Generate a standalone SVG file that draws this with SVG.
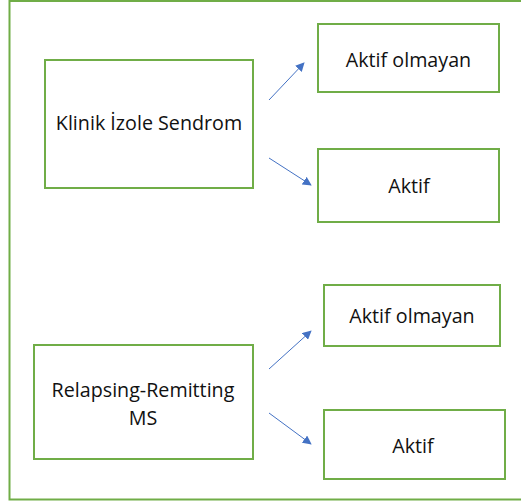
<svg xmlns="http://www.w3.org/2000/svg" width="521" height="501" viewBox="0 0 521 501">
  <defs>
    <style>
      .frame { fill: none; stroke: #70AD47; stroke-width: 2; }
      .box { fill: #FFFFFF; stroke: #70AD47; stroke-width: 2; }
      .label { font-family: "Open Sans", "Noto Sans", "Liberation Sans", sans-serif; font-size: 19.7px; fill: #111111; text-anchor: middle; }
      .link { stroke: #4472C4; stroke-width: 1; fill: none; marker-end: url(#arrow); }
    </style>
    <marker id="arrow" viewBox="0 0 10 10" refX="9" refY="5" markerWidth="9" markerHeight="9" markerUnits="userSpaceOnUse" orient="auto">
      <path d="M0,0 L10,5 L0,10 z" fill="#4472C4"/>
    </marker>
  </defs>

  <rect width="521" height="501" fill="#FFFFFF"/>
  <!-- outer frame, open on the right -->
  <rect class="frame" x="9.5" y="1" width="530" height="498.5"/>

  <g id="kis">
    <rect class="box" x="45" y="60" width="208" height="128"/>
    <text class="label" x="149" y="130">Klinik İzole Sendrom</text>
  </g>
  <g id="kis-inactive">
    <rect class="box" x="318" y="24" width="181" height="68"/>
    <text class="label" x="408.5" y="67">Aktif olmayan</text>
  </g>
  <g id="kis-active">
    <rect class="box" x="318" y="149" width="181" height="73"/>
    <text class="label" x="409" y="193">Aktif</text>
  </g>

  <g id="rrms">
    <rect class="box" x="34" y="345" width="219" height="114"/>
    <text class="label" x="143" y="397">Relapsing-Remitting</text>
    <text class="label" x="143" y="425">MS</text>
  </g>
  <g id="rrms-inactive">
    <rect class="box" x="324" y="285" width="176" height="61"/>
    <text class="label" x="412" y="323">Aktif olmayan</text>
  </g>
  <g id="rrms-active">
    <rect class="box" x="324" y="410" width="181" height="69"/>
    <text class="label" x="413" y="453">Aktif</text>
  </g>

  <g id="connectors">
    <line class="link" x1="269" y1="100" x2="304" y2="63"/>
    <line class="link" x1="269" y1="158" x2="311" y2="185"/>
    <line class="link" x1="269" y1="369" x2="311" y2="331"/>
    <line class="link" x1="269" y1="413" x2="311" y2="444"/>
  </g>
</svg>
